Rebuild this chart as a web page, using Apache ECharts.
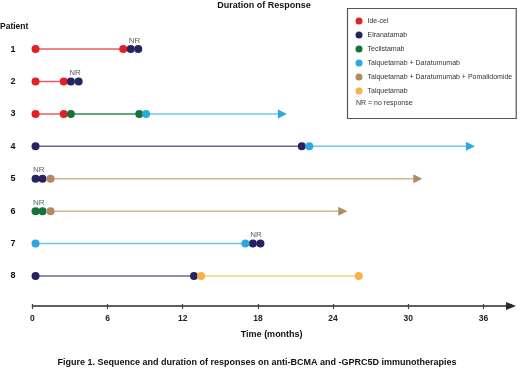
<!DOCTYPE html>
<html>
<head>
<meta charset="utf-8">
<script src="https://cdn.jsdelivr.net/npm/echarts@6/dist/echarts.min.js"></script>
<style>
  html, body { margin: 0; padding: 0; background: #fff; }
  #chart { width: 520px; height: 369px; }
</style>
</head>
<body>
<div id="chart"></div>
<script>
// treatments, in legend order
const treatments = ['Ide-cel', 'Elranatamab', 'Teclistamab', 'Talquetamab + Daratumumab',
  'Talquetamab + Daratumumab + Pomalidomide', 'Talquetamab'];
const dotColors = ['#e41f26', '#252360', '#14723d', '#2aa9e0', '#b08a63', '#f8b145'];
const lineColors = ['#ee5b5e', '#6b6890', '#2f8a52', '#72c6e6', '#d3b590', '#f7cf7d'];

const patients = [1, 2, 3, 4, 5, 6, 7, 8];

// segments: [patient, treatment, start month, end month, ongoing arrow]
const segments = [
  [1, 0, 0.25, 7.25, false],
  [2, 0, 0.25, 2.5, false],
  [3, 0, 0.25, 2.5, false],
  [3, 2, 3.07, 8.53, false],
  [3, 3, 9.07, 19.95, true],
  [4, 1, 0.25, 21.5, false],
  [4, 3, 22.1, 34.96, true],
  [5, 4, 1.45, 30.76, true],
  [6, 4, 1.45, 24.77, true],
  [7, 3, 0.25, 17.0, false],
  [8, 1, 0.25, 12.9, false],
  [8, 5, 13.46, 26.05, false]
];

// dots: [patient, treatment, month]
const dots = [
  [1, 0, 0.25], [1, 0, 7.25], [1, 1, 7.85], [1, 1, 8.45],
  [2, 0, 0.25], [2, 0, 2.5], [2, 1, 3.07], [2, 1, 3.69],
  [3, 0, 0.25], [3, 0, 2.5], [3, 2, 3.07], [3, 2, 8.53], [3, 3, 9.07],
  [4, 1, 0.25], [4, 1, 21.5], [4, 3, 22.1],
  [5, 1, 0.25], [5, 1, 0.81], [5, 4, 1.45],
  [6, 2, 0.25], [6, 2, 0.81], [6, 4, 1.45],
  [7, 3, 0.25], [7, 3, 17.0], [7, 1, 17.6], [7, 1, 18.2],
  [8, 1, 0.25], [8, 1, 12.9], [8, 5, 13.46], [8, 5, 26.05]
];

// "NR" labels: [patient, month]
const nrLabels = [[1, 8.15], [2, 3.4], [5, 0.5], [6, 0.5], [7, 17.85]];

const FONT = 'Liberation Sans, Arial, sans-serif';

const chart = echarts.init(document.getElementById('chart'));

const series = [];

segments.forEach(s => {
  const end = s[4]
    ? { value: [s[3], s[0]], symbol: 'triangle', symbolSize: 9, symbolRotate: -90,
        itemStyle: { color: dotColors[s[1]] } }
    : { value: [s[3], s[0]], symbol: 'none' };
  series.push({
    type: 'line',
    xAxisIndex: 0,
    symbol: 'none',
    showSymbol: true,
    silent: true,
    z: 2,
    lineStyle: { color: lineColors[s[1]], width: 1.5 },
    itemStyle: { color: lineColors[s[1]] },
    data: [{ value: [s[2], s[0]], symbol: 'none' }, end]
  });
});

treatments.forEach((name, i) => {
  series.push({
    name: name,
    type: 'scatter',
    symbol: 'circle',
    symbolSize: 8,
    z: 3,
    itemStyle: { color: dotColors[i], opacity: 1 },
    data: dots.filter(d => d[1] === i).map(d => [d[2], d[0]])
  });
});

series.push({
  type: 'scatter',
  symbolSize: 1,
  z: 4,
  itemStyle: { color: 'rgba(0,0,0,0)' },
  label: {
    show: true, position: 'top', distance: 4, formatter: 'NR',
    fontFamily: FONT, fontSize: 8, color: '#333'
  },
  data: nrLabels.map(n => [n[1], n[0]])
});

chart.setOption({
  animation: false,
  title: {
    text: 'Duration of Response',
    left: 264, top: 1.5, padding: 0, textAlign: 'center',
    textStyle: { fontFamily: FONT, fontSize: 9, fontWeight: 'bold', color: '#111' }
  },
  legend: {
    orient: 'vertical',
    left: 347.5, top: 8.5,
    padding: [9, 4, 24, 8],
    itemWidth: 7, itemHeight: 7, itemGap: 7,
    icon: 'circle',
    borderColor: '#555', borderWidth: 1.2,
    data: treatments,
    selectedMode: false,
    textStyle: { fontFamily: FONT, fontSize: 7, color: '#333' }
  },
  graphic: [
    { type: 'text', left: 356, top: 100,
      style: { text: 'NR = no response', font: '7px ' + FONT, fill: '#333' } },
    { type: 'text', left: 0, top: 22,
      style: { text: 'Patient', font: 'bold 8.5px ' + FONT, fill: '#111' } },
    { type: 'text', x: 257, y: 358,
      style: { text: 'Figure 1. Sequence and duration of responses on anti-BCMA and -GPRC5D immunotherapies',
        font: 'bold 9px ' + FONT, fill: '#111', align: 'center' } }
  ],
  grid: { left: 32.4, right: 9, top: 16.6, bottom: 63 },
  xAxis: [{
    type: 'value', min: 0, max: 38.2, interval: 6, position: 'bottom',
    name: 'Time (months)', nameLocation: 'middle', nameGap: 24,
    nameTextStyle: { fontFamily: FONT, fontSize: 9, fontWeight: 'bold', color: '#111' },
    axisLine: { show: true, onZero: false, symbol: ['none', 'triangle'], symbolSize: [8, 10],
      lineStyle: { color: '#2a2a2a', width: 1.5 } },
    axisTick: { show: true, length: 3, lineStyle: { color: '#444', width: 1.2 } },
    axisLabel: { showMaxLabel: false, margin: 8, fontFamily: FONT, fontSize: 8.5,
      fontWeight: 'bold', color: '#222' },
    splitLine: { show: false }
  }, {
    type: 'value', min: 0, max: 38.2, interval: 6, position: 'bottom',
    axisLine: { show: false, onZero: false },
    axisTick: { show: true, inside: true, length: 2, lineStyle: { color: '#444', width: 1.2 } },
    axisLabel: { show: false },
    splitLine: { show: false }
  }],
  yAxis: {
    type: 'value', inverse: true, min: 0, max: 8.925, interval: 1,
    axisLine: { show: false }, axisTick: { show: false }, splitLine: { show: false },
    axisLabel: {
      margin: 17, fontFamily: FONT, fontSize: 9, fontWeight: 'bold', color: '#111',
      formatter: v => patients.includes(v) ? String(v) : ''
    }
  },
  series: series
});
</script>
</body>
</html>
